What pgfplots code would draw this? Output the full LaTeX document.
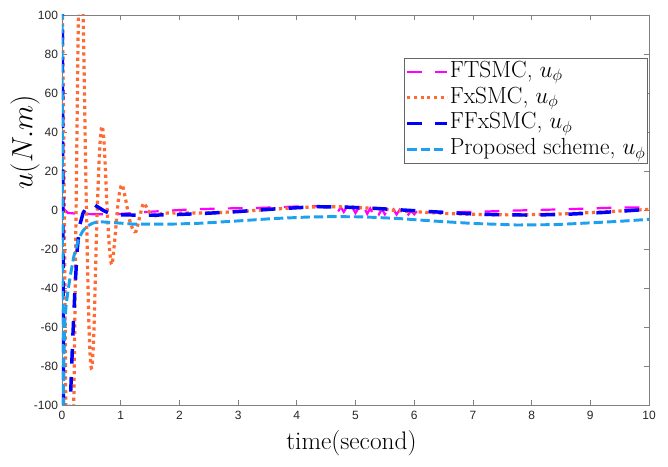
\documentclass[border=0pt]{standalone}
\usepackage{fix-cm}
\usepackage{fontspec}
\usepackage{pgfplots}
\pgfplotsset{compat=1.18}
\newfontfamily\arial{Liberation Sans}
\definecolor{cmag}{RGB}{255,0,255}
\definecolor{corange}{RGB}{255,105,50}
\definecolor{cblue}{RGB}{0,0,255}
\definecolor{ccyan}{RGB}{30,160,240}
\begin{document}
\begin{tikzpicture}
\useasboundingbox (-46.5pt,-46.5pt) rectangle (454.5pt,303.75pt);
\begin{axis}[
  at={(0,0)}, anchor=south west,
  scale only axis, width=440.25pt, height=292.5pt,
  xmin=0, xmax=10, ymin=-100, ymax=100,
  xtick={0,1,...,10}, ytick={-100,-80,...,100},
  tick align=inside, major tick length=4pt,
  axis line style={black!50, line width=0.6pt},
  every tick/.style={black!50, line width=0.6pt},
  tick label style={font=\arial\fontsize{9}{10}\selectfont, text=black!85},
  xticklabel style={yshift=-1pt},
  yticklabel style={xshift=0.5pt},
  /pgf/number format/assume math mode=true,
  xlabel={time(second)},
  xlabel style={font=\fontsize{19}{21}\selectfont, at={(axis description cs:0.493,0)}, anchor=base, yshift=-33.75pt},
  ylabel={$u(N.m)$},
  ylabel style={font=\fontsize{22}{24}\selectfont, at={(axis description cs:-0.063,0.674)}, anchor=center},
  legend style={at={(axis description cs:0.998,0.89)}, anchor=north east, draw=black!60, line width=0.5pt,
    font=\fontsize{17.5}{20}\selectfont, inner sep=0.8pt, row sep=0pt,
    nodes={inner sep=0.6pt, text height=13pt, text depth=5.1pt}},
  legend cell align=left,
  legend image code/.code={\draw[#1] (0pt,0pt) -- (30pt,0pt);},
]
% FTSMC
\addplot[cmag, line width=1.65pt, dash pattern=on 11pt off 10pt] coordinates {
(0,1) (0.05,0) (0.1,-1.5) (0.3,-2) (0.6,-2.2) (1,-2) (1.44,-1) (2.18,0.3) (2.75,0.8) (3.3,1) (4,1.8) (4.3,2) (4.6,1.2)
(4.7,-1) (4.75,1.5) (4.8,-1) (4.85,1.4) (4.9,-1.5) (4.95,1.2) (5.0,-1.6) (5.05,1) (5.1,-2) (5.15,1) (5.2,-2) (5.25,0.8)
(5.3,-2) (5.35,0.6) (5.4,-2.2) (5.45,0.5) (5.5,-2.2) (5.55,0.3) (5.6,-2.3) (5.65,0.2) (5.7,-2.3) (5.75,0) (5.8,-2.3)
(5.85,-0.1) (5.9,-2.3) (5.95,-0.3) (6.0,-2.2) (6.05,-0.5) (6.1,-2) (6.2,-1.2)
(6.5,-1.2) (7,-1) (7.7,-0.3) (8.6,0.4) (9.5,1.3) (10,1.2)
};
\addlegendentry{FTSMC, $u_\phi$}
% FxSMC
\addplot[corange, line width=2.4pt, dash pattern=on 2.4pt off 2.6pt, smooth, tension=0.5] coordinates {
(0,130) (0.04,0) (0.08,-150) (0.14,-200) (0.2,-100) (0.24,0) (0.28,100) (0.32,135) (0.36,100) (0.41,10) (0.46,-60)
(0.5,-81) (0.54,-65) (0.59,-10) (0.64,30) (0.68,43) (0.72,33) (0.77,0) (0.81,-20) (0.85,-28) (0.9,-15) (0.96,5)
(1.02,13) (1.08,6) (1.15,-5) (1.21,-10) (1.26,-11) (1.32,-4) (1.39,3.5) (1.46,0) (1.53,-2.5) (1.6,-3) (1.7,-1.8)
(1.9,-1.5) (2.2,-1.5) (2.5,-1.5) (3,-0.8) (3.5,0.2) (4,1.2) (4.6,1.7) (5.2,1) (5.8,-0.5) (6.5,-1.7) (7,-2.2)
(7.7,-2.5) (8.5,-2) (9.2,-1) (10,0.3)
};
\addlegendentry{FxSMC, $u_\phi$}
% FFxSMC
\addplot[cblue, line width=2.6pt, dash pattern=on 11pt off 10pt] coordinates {
(0,150) (0.015,0) (0.03,-150) (0.1,-150) (0.14,-100) (0.18,-68) (0.22,-41) (0.26,-20) (0.3,-8) (0.36,-1.5) (0.42,1.5)
(0.48,3) (0.56,2.5) (0.64,1) (0.72,-0.5) (0.82,-1.8) (1,-2.5) (1.5,-2.7) (2,-2.3) (2.46,-1.7) (3,-0.8) (3.6,0.5)
(4.34,1.7) (4.8,1.5) (5.3,0.9) (5.8,0) (6.32,-0.9) (7,-2) (7.5,-2.5) (8.03,-2.6) (8.6,-2.2) (9.2,-1.3) (9.96,0.3) (10,0.4)
};
\addlegendentry{FFxSMC, $u_\phi$}
% Proposed
\addplot[ccyan, line width=2.2pt, dash pattern=on 7pt off 3pt] coordinates {
(0,150) (0.008,0) (0.016,-150) (0.022,-100) (0.035,-72) (0.05,-56) (0.07,-49) (0.1,-42) (0.14,-34) (0.2,-24)
(0.28,-15) (0.35,-11) (0.42,-8.5) (0.52,-6.8) (0.62,-6) (0.8,-6.3) (1.2,-7.2) (1.8,-7.3) (2.35,-6.8) (3,-5.6)
(3.6,-4.4) (4.2,-3.6) (4.62,-3.4) (5.1,-3.5) (5.7,-4.3) (6.3,-5.6) (7,-6.9) (7.75,-7.7) (8.4,-7.5) (9,-6.6)
(9.5,-5.8) (10,-4.8)
};
\addlegendentry{Proposed scheme, $u_\phi$}
\end{axis}
\end{tikzpicture}
\end{document}
